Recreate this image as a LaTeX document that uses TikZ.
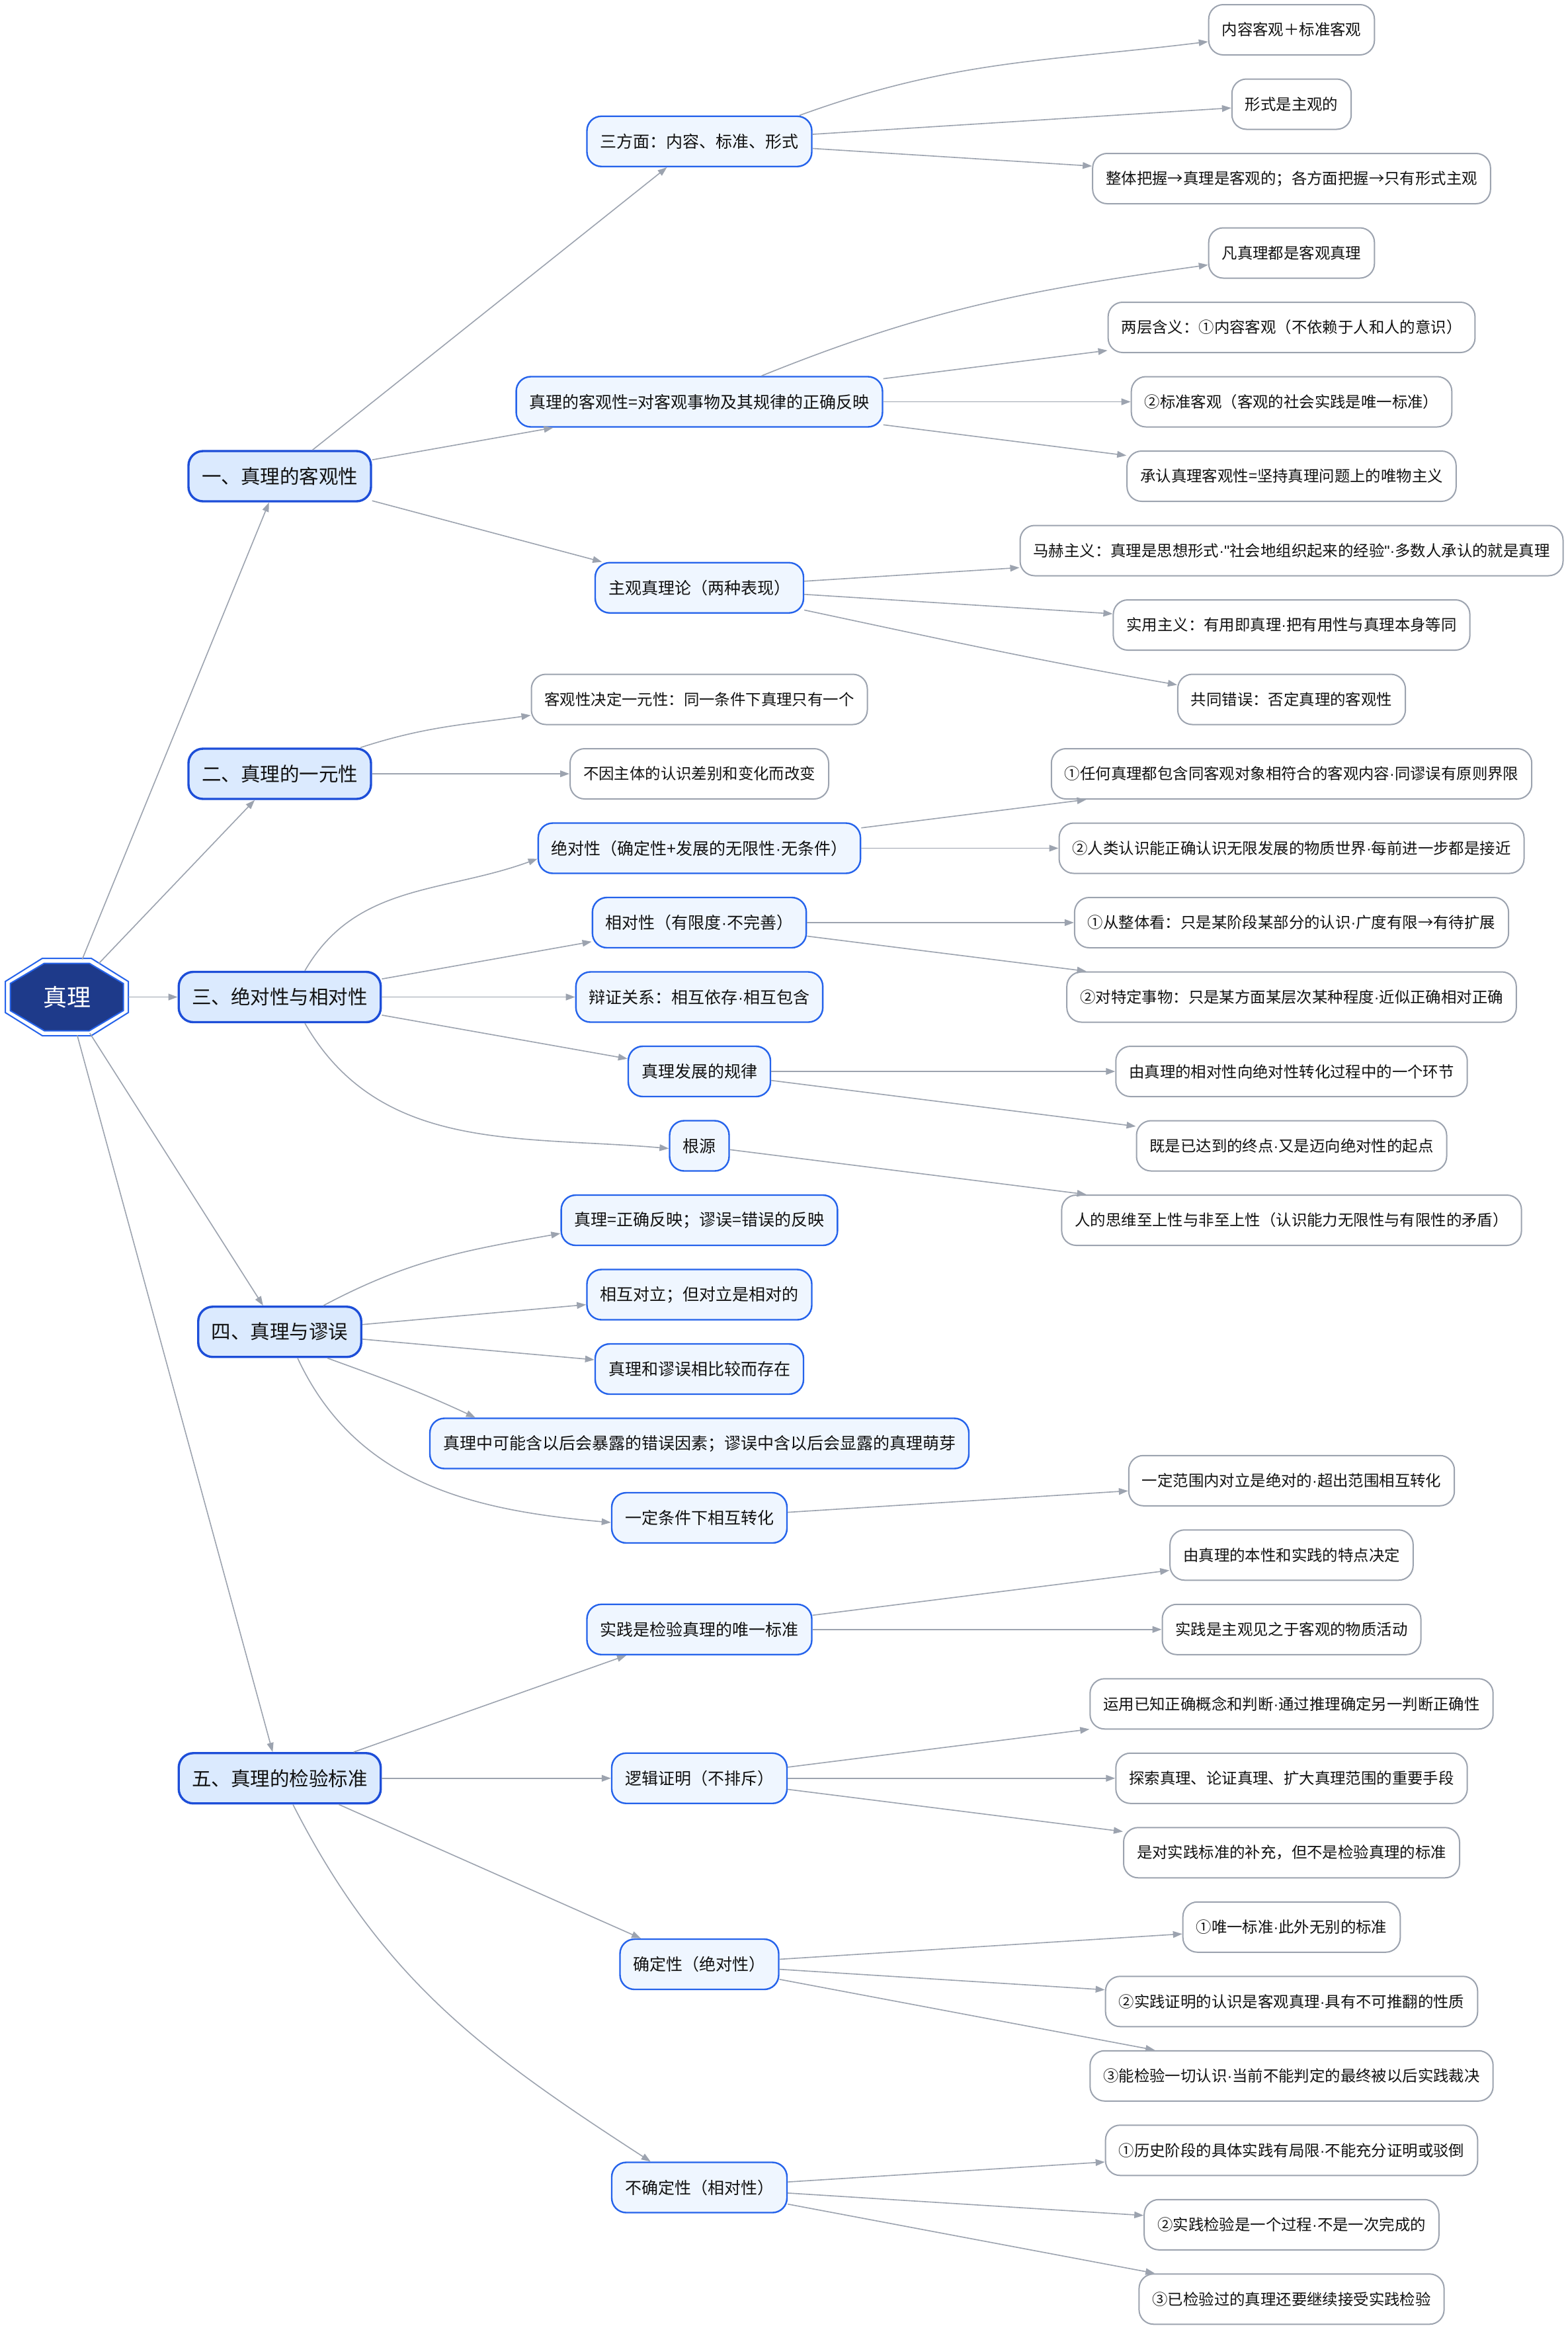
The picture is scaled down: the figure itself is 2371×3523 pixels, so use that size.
\documentclass[tikz,border=0pt]{standalone}
\usepackage{fontspec}
\setmainfont{Noto Sans CJK SC}
\newfontfamily\latinf{Liberation Sans}
\newcommand{\zdot}{{\latinf ·}}
\newcommand{\zq}{{\latinf "}}
\usetikzlibrary{arrows.meta,shapes.geometric}
\definecolor{edgec}{HTML}{9CA3AF}
\definecolor{leafborder}{HTML}{9CA3AF}
\definecolor{lonefill}{HTML}{DBEAFE}
\definecolor{loneborder}{HTML}{1D4ED8}
\definecolor{ltwofill}{HTML}{EFF6FF}
\definecolor{ltwoborder}{HTML}{2563EB}
\definecolor{rootfill}{HTML}{1E3A8A}
\definecolor{rootborder}{HTML}{2563EB}
\definecolor{txt}{HTML}{111111}
\begin{document}
\begin{tikzpicture}[x=0.5pt,y=0.5pt,
  base/.style={rectangle, rounded corners=11pt, minimum height=38pt, inner xsep=10pt, inner ysep=0pt, align=center, text=txt},
  lvone/.style={base, draw=loneborder, fill=lonefill, line width=1.7pt, font=\fontsize{14.75pt}{16pt}\selectfont},
  lvtwo/.style={base, draw=ltwoborder, fill=ltwofill, line width=1.2pt, font=\fontsize{12.5pt}{14pt}\selectfont},
  leaf/.style={base, draw=leafborder, fill=white, line width=1pt, font=\fontsize{11.7pt}{13pt}\selectfont},
  conn/.style={draw=edgec, line width=0.8pt, -{Triangle[length=7pt,width=5pt]}},
  octo/.style={draw=rootborder, line width=1pt}
]
\fill[white] (0,0) rectangle (2371,-3523);
\useasboundingbox (0,0) rectangle (2371,-3523);

% root double octagon
\draw[octo] (138,-1449) -- (194,-1484) -- (194,-1531) -- (138,-1566) -- (64,-1566) -- (8,-1531) -- (8,-1484) -- (64,-1449) -- cycle;
\filldraw[octo, fill=rootfill] (135,-1456.5) -- (186.5,-1487) -- (186.5,-1528) -- (135,-1558.5) -- (67,-1558.5) -- (15.5,-1528) -- (15.5,-1487) -- (67,-1456.5) -- cycle;
\node[ellipse, minimum width=93pt, minimum height=58.5pt, inner sep=0pt, text=white, font=\fontsize{18pt}{20pt}\selectfont] (root) at (101,-1507.5) {真理};

% level 1
\node[lvone] (n1) at (423,-720) {一、真理的客观性};
\node[lvone] (n2) at (423,-1170) {二、真理的一元性};
\node[lvone] (n3) at (423,-1507.5) {三、绝对性与相对性};
\node[lvone] (n4) at (423,-2013.75) {四、真理与谬误};
\node[lvone] (n5) at (423,-2688.75) {五、真理的检验标准};

% level 2
\node[lvtwo] (a1) at (1057.5,-213.75) {三方面：内容、标准、形式};
\node[lvtwo] (a2) at (1057.5,-607.5) {真理的客观性=对客观事物及其规律的正确反映};
\node[lvtwo] (a3) at (1057.5,-888.75) {主观真理论（两种表现）};
\node[leaf] (b1) at (1057.5,-1057.5) {客观性决定一元性：同一条件下真理只有一个};
\node[leaf] (b2) at (1057.5,-1170) {不因主体的认识差别和变化而改变};
\node[lvtwo] (c1) at (1057.5,-1282.5) {绝对性（确定性+发展的无限性\zdot 无条件）};
\node[lvtwo] (c2) at (1057.5,-1395) {相对性（有限度\zdot 不完善）};
\node[lvtwo] (c3) at (1057.5,-1507.5) {辩证关系：相互依存\zdot 相互包含};
\node[lvtwo] (c4) at (1057.5,-1620) {真理发展的规律};
\node[lvtwo] (c5) at (1057.5,-1732.5) {根源};
\node[lvtwo] (d1) at (1057.5,-1845) {真理=正确反映；谬误=错误的反映};
\node[lvtwo] (d2) at (1057.5,-1957.5) {相互对立；但对立是相对的};
\node[lvtwo] (d3) at (1057.5,-2070) {真理和谬误相比较而存在};
\node[lvtwo] (d4) at (1057.5,-2182.5) {真理中可能含以后会暴露的错误因素；谬误中含以后会显露的真理萌芽};
\node[lvtwo] (d5) at (1057.5,-2295) {一定条件下相互转化};
\node[lvtwo] (e1) at (1057.5,-2463.75) {实践是检验真理的唯一标准};
\node[lvtwo] (e2) at (1057.5,-2688.75) {逻辑证明（不排斥）};
\node[lvtwo] (e3) at (1057.5,-2970) {确定性（绝对性）};
\node[lvtwo] (e4) at (1057.5,-3307.5) {不确定性（相对性）};

% leaves
\node[leaf] (a1a) at (1953,-45) {内容客观＋标准客观};
\node[leaf] (a1b) at (1953,-157.5) {形式是主观的};
\node[leaf] (a1c) at (1953,-270) {整体把握→真理是客观的；各方面把握→只有形式主观};
\node[leaf] (a2a) at (1953,-382.5) {凡真理都是客观真理};
\node[leaf] (a2b) at (1953,-495) {两层含义：①内容客观（不依赖于人和人的意识）};
\node[leaf] (a2c) at (1953,-607.5) {②标准客观（客观的社会实践是唯一标准）};
\node[leaf] (a2d) at (1953,-720) {承认真理客观性=坚持真理问题上的唯物主义};
\node[leaf] (a3a) at (1953,-832.5) {马赫主义：真理是思想形式\zdot\zq 社会地组织起来的经验\zq\zdot 多数人承认的就是真理};
\node[leaf] (a3b) at (1953,-945) {实用主义：有用即真理\zdot 把有用性与真理本身等同};
\node[leaf] (a3c) at (1953,-1057.5) {共同错误：否定真理的客观性};
\node[leaf] (c1a) at (1953,-1170) {①任何真理都包含同客观对象相符合的客观内容\zdot 同谬误有原则界限};
\node[leaf] (c1b) at (1953,-1282.5) {②人类认识能正确认识无限发展的物质世界\zdot 每前进一步都是接近};
\node[leaf] (c2a) at (1953,-1395) {①从整体看：只是某阶段某部分的认识\zdot 广度有限→有待扩展};
\node[leaf] (c2b) at (1953,-1507.5) {②对特定事物：只是某方面某层次某种程度\zdot 近似正确相对正确};
\node[leaf] (c4a) at (1953,-1620) {由真理的相对性向绝对性转化过程中的一个环节};
\node[leaf] (c4b) at (1953,-1732.5) {既是已达到的终点\zdot 又是迈向绝对性的起点};
\node[leaf] (c5a) at (1953,-1845) {人的思维至上性与非至上性（认识能力无限性与有限性的矛盾）};
\node[leaf] (d5a) at (1953,-2238.75) {一定范围内对立是绝对的\zdot 超出范围相互转化};
\node[leaf] (e1a) at (1953,-2351.25) {由真理的本性和实践的特点决定};
\node[leaf] (e1b) at (1953,-2463.75) {实践是主观见之于客观的物质活动};
\node[leaf] (e2a) at (1953,-2576.25) {运用已知正确概念和判断\zdot 通过推理确定另一判断正确性};
\node[leaf] (e2b) at (1953,-2688.75) {探索真理、论证真理、扩大真理范围的重要手段};
\node[leaf] (e2c) at (1953,-2801.25) {是对实践标准的补充，但不是检验真理的标准};
\node[leaf] (e3a) at (1953,-2913.75) {①唯一标准\zdot 此外无别的标准};
\node[leaf] (e3b) at (1953,-3026.25) {②实践证明的认识是客观真理\zdot 具有不可推翻的性质};
\node[leaf] (e3c) at (1953,-3138.75) {③能检验一切认识\zdot 当前不能判定的最终被以后实践裁决};
\node[leaf] (e4a) at (1953,-3251.25) {①历史阶段的具体实践有局限\zdot 不能充分证明或驳倒};
\node[leaf] (e4b) at (1953,-3363.75) {②实践检验是一个过程\zdot 不是一次完成的};
\node[leaf] (e4c) at (1953,-3476.25) {③已检验过的真理还要继续接受实践检验};

% root edges
\draw[conn] (root) -- (n1);
\draw[conn] (root) -- (n2);
\draw[conn] (root) -- (n3);
\draw[conn] (root) -- (n4);
\draw[conn] (root) -- (n5);

% level1 -> level2
\draw[conn] (n1) -- (a1);
\draw[conn] (n1) -- (a2);
\draw[conn] (n1) -- (a3);
\draw[conn] (n2) to[out=18,in=188] ([yshift=-12pt]b1.west);
\draw[conn] (n2) -- (b2);
\draw[conn] ([xshift=19pt]n3.north) to[out=60,in=200] ([yshift=-8pt]c1.west);
\draw[conn] (n3) -- (c2);
\draw[conn] (n3) -- (c3);
\draw[conn] (n3) -- (c4);
\draw[conn] ([xshift=19pt]n3.south) to[out=-60,in=175] ([yshift=-2pt]c5.west);
\draw[conn] ([xshift=33pt]n4.north) to[out=28,in=190] ([yshift=-10pt]d1.west);
\draw[conn] (n4) -- (d2);
\draw[conn] (n4) -- (d3);
\draw[conn] ([xshift=36pt]n4.south) to[out=-20,in=155] ([xshift=35pt]d4.north west);
\draw[conn] ([xshift=13.5pt]n4.south) to[out=-65,in=175] ([yshift=-3.5pt]d5.west);
\draw[conn] (n5) -- (e1);
\draw[conn] (n5) -- (e2);
\draw[conn] (n5) -- (e3);
\draw[conn] ([xshift=10pt]n5.south) to[out=-63,in=147] ([xshift=30pt]e4.north west);

% level2 -> leaves
\draw[conn] ([xshift=-10pt]a1.north east) to[out=20,in=187] ([yshift=-9pt]a1a.west);
\draw[conn] (a1) -- (a1b);
\draw[conn] (a1) -- (a1c);
\draw[conn] ([xshift=47pt]a2.north) to[out=22,in=188] ([yshift=-9pt]a2a.west);
\draw[conn] (a2) -- (a2b);
\draw[conn] (a2) -- (a2c);
\draw[conn] (a2) -- (a2d);
\draw[conn] (a3) -- (a3a);
\draw[conn] (a3) -- (a3b);
\draw[conn] (a3) to[out=-12,in=170] ([yshift=11pt]a3c.west);
\draw[conn] (c1) -- (c1a);
\draw[conn] (c1) -- (c1b);
\draw[conn] (c2) -- (c2a);
\draw[conn] (c2) -- (c2b);
\draw[conn] (c4) -- (c4a);
\draw[conn] (c4) -- (c4b);
\draw[conn] (c5) -- (c5a);
\draw[conn] (d5) -- (d5a);
\draw[conn] (e1) -- (e1a);
\draw[conn] (e1) -- (e1b);
\draw[conn] (e2) -- (e2a);
\draw[conn] (e2) -- (e2b);
\draw[conn] (e2) -- (e2c);
\draw[conn] (e3) -- (e3a);
\draw[conn] (e3) -- (e3b);
\draw[conn] (e3) -- (e3c);
\draw[conn] (e4) -- (e4a);
\draw[conn] (e4) -- (e4b);
\draw[conn] (e4) -- (e4c);
\end{tikzpicture}
\end{document}
